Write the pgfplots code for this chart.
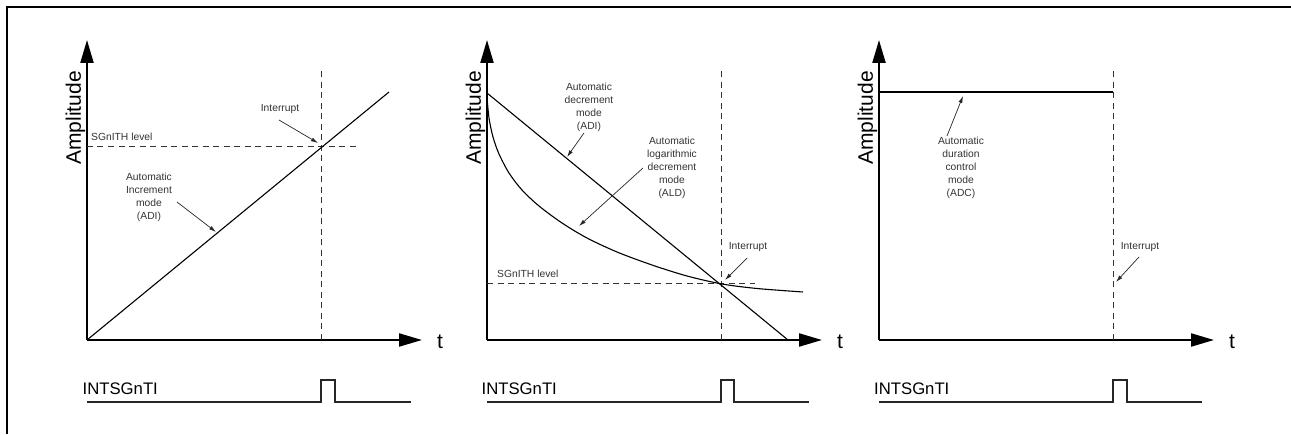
\documentclass[border=0pt]{standalone}
\usepackage{fontspec}
\setmainfont{Liberation Sans}
\usepackage{pgfplots}
\pgfplotsset{compat=1.18}
\usetikzlibrary{arrows.meta}

\pgfplotsset{
  panel/.style={scale only axis, width=335pt, height=300pt,
    xmin=0, xmax=335, ymin=0, ymax=300,
    axis lines=left, clip=false, anchor=south west,
    axis line style={line width=2.2pt, -{Triangle[length=23pt,width=13pt]}},
    xtick=\empty, ytick=\empty,
    ylabel={}, xlabel={}},
  sig/.style={black, line width=1.1pt},
  dsh/.style={black!80, line width=1pt, dash pattern=on 6pt off 4.5pt},
  pulse/.style={black!85, line width=1.3pt},
}
\tikzset{
  note/.style={font=\fontsize{10.3}{13}\selectfont, text=black!80, align=center, inner sep=0pt},
  big/.style={font=\fontsize{21}{24}\selectfont},
  ptr/.style={black!85, line width=0.7pt, -{Latex[length=7pt,width=4pt]}},
}

\begin{document}
\begin{tikzpicture}[x=1pt,y=1pt]
\useasboundingbox (0,0) rectangle (1291,434);
\draw[line width=1.8pt] (7,0) -- (7,427) -- (1291,427);

% panel 1: increment
\begin{axis}[panel, at={(87pt,94pt)}]
  \addplot[dsh] coordinates {(234,0) (234,270)};
  \addplot[dsh] coordinates {(0,193) (270,193)};
  \addplot[sig] coordinates {(0,0) (302,248)};
  \addplot[pulse] coordinates {(0,-62) (234,-62) (234,-40) (248,-40) (248,-62) (324,-62)};
  \node[big, rotate=90] at (axis cs:-11.5,222) {Amplitude};
  \node[big] at (axis cs:353,-2) {t};
  \node[font=\fontsize{16.7}{20}\selectfont, anchor=base west, inner sep=0pt] at (axis cs:-4.5,-55) {INTSGnTI};
  \node[note, anchor=west] at (axis cs:4,203) {SGnITH level};
  \node[note] at (axis cs:193,231) {Interrupt};
  \draw[ptr] (axis cs:192,220) -- (axis cs:231,197);
  \node[note] at (axis cs:62,143) {Automatic\\Increment\\mode\\(ADI)};
  \draw[ptr] (axis cs:90,138) -- (axis cs:129,108);
\end{axis}

% panel 2: decrement
\begin{axis}[panel, at={(487pt,94pt)}]
  \addplot[dsh] coordinates {(234,0) (234,270)};
  \addplot[dsh] coordinates {(0,56) (268,56)};
  \addplot[sig] coordinates {(0,247) (301,0)};
  \addplot[sig, smooth] coordinates {(0,243) (2,222) (6,203) (12,186) (22,167) (35,150) (52,134)
     (75,117) (100,102) (130,88) (165,75) (200,64) (235,56) (270,51.5) (316,48)};
  \addplot[pulse] coordinates {(0,-62) (234,-62) (234,-40) (247,-40) (247,-62) (322,-62)};
  \node[big, rotate=90] at (axis cs:-11.5,222) {Amplitude};
  \node[big] at (axis cs:353,-2) {t};
  \node[font=\fontsize{16.7}{20}\selectfont, anchor=base west, inner sep=0pt] at (axis cs:-5.5,-55) {INTSGnTI};
  \node[note, anchor=west] at (axis cs:10,66) {SGnITH level};
  \node[note] at (axis cs:261,93) {Interrupt};
  \draw[ptr] (axis cs:260,82) -- (axis cs:238,60);
  \node[note] at (axis cs:102,233) {Automatic\\decrement\\mode\\(ADI)};
  \draw[ptr] (axis cs:97,207) -- (axis cs:80,183);
  \node[note] at (axis cs:185,172) {Automatic\\logarithmic\\decrement\\mode\\(ALD)};
  \draw[ptr] (axis cs:156,172) -- (axis cs:92,114);
\end{axis}

% panel 3: duration control
\begin{axis}[panel, at={(879pt,94pt)}]
  \addplot[dsh] coordinates {(234,0) (234,270)};
  \addplot[sig] coordinates {(0,248) (234,248)};
  \addplot[pulse] coordinates {(0,-62) (234,-62) (234,-40) (248,-40) (248,-62) (323,-62)};
  \node[big, rotate=90] at (axis cs:-11.5,222) {Amplitude};
  \node[big] at (axis cs:353,-2) {t};
  \node[font=\fontsize{16.7}{20}\selectfont, anchor=base west, inner sep=0pt] at (axis cs:-5,-55) {INTSGnTI};
  \node[note] at (axis cs:82,172) {Automatic\\duration\\control\\mode\\(ADC)};
  \draw[ptr] (axis cs:68,204) -- (axis cs:84,244);
  \node[note] at (axis cs:261,93) {Interrupt};
  \draw[ptr] (axis cs:260,83) -- (axis cs:237,58);
\end{axis}
\end{tikzpicture}
\end{document}
